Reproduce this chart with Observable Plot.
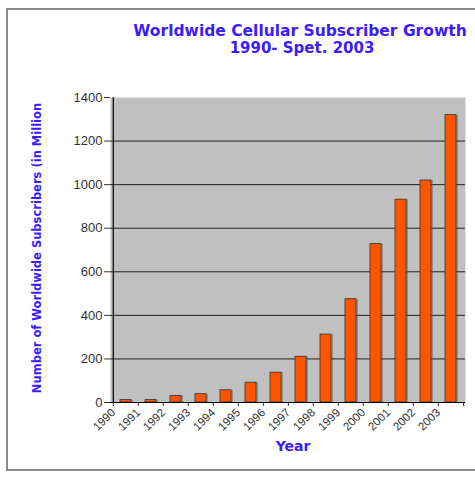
<!DOCTYPE html>
<html>
<head>
<meta charset="utf-8">
<script src="https://cdn.jsdelivr.net/npm/d3@7"></script>
<script src="https://cdn.jsdelivr.net/npm/@observablehq/plot@0.6"></script>
<style>
  html, body { margin: 0; padding: 0; background: #fff; overflow: hidden; }
  #wrap { position: relative; width: 475px; height: 479px; }
  #border { position: absolute; left: 6px; top: 8px; width: 480px; height: 463px; border: 2px solid #8a8a8a; box-sizing: border-box; }
  #chart { position: absolute; left: 0; top: 0; }
</style>
</head>
<body>
<div id="wrap"><div id="border"></div><div id="chart"></div></div>
<script>
const years = ["1990","1991","1992","1993","1994","1995","1996","1997","1998","1999","2000","2001","2002","2003"];
const subscribers = [11, 11, 30, 38, 56, 91, 137, 210, 312, 474, 727, 931, 1019, 1319];
const yTicks = [0, 200, 400, 600, 800, 1000, 1200, 1400];
const gridTicks = [200, 400, 600, 800, 1000, 1200];
const titleLines = ["Worldwide Cellular Subscriber Growth", "1990- Spet. 2003"];
const yLabel = "Number of Worldwide Subscribers (in Million";
const xLabel = "Year";

const data = years.map((y, i) => ({year: y, value: subscribers[i]}));
const blue = "#3a1cff";
const boldFont = "DejaVu Sans, Verdana, sans-serif";

const chart = Plot.plot({
  width: 475,
  height: 479,
  marginLeft: 110,
  marginRight: 10,
  marginTop: 97,
  marginBottom: 77,
  style: {background: "transparent", fontFamily: "Liberation Sans, Arial, sans-serif"},
  x: {domain: years, paddingInner: 0.57, paddingOuter: 0.285, label: null},
  y: {domain: [0, 1400], label: null},
  marks: [
    Plot.frame({fill: "#c0c0c0", stroke: "#e0e0e0"}),
    Plot.ruleY(gridTicks, {stroke: "#222", strokeWidth: 1}),
    Plot.barY(data, {x: "year", y: "value", fill: "#555", fillOpacity: 0.45, dx: 2}),
    Plot.barY(data, {x: "year", y: "value", fill: "#ff5500", stroke: "#333", strokeWidth: 0.8}),
    Plot.ruleY([0], {stroke: "#000", strokeWidth: 1.2}),
    Plot.ruleX([years[0]], {stroke: "#000", strokeWidth: 1.2, dx: -12.7}),
    Plot.axisY({ticks: yTicks, tickFormat: d => String(d), tickSize: 6, tickPadding: 2, fontSize: 13, color: "#333", label: null}),
    Plot.axisX({tickSize: 4, tickRotate: -45, dx: -12.7, tickPadding: 4, fontSize: 11.5, color: "#333", label: null}),
    Plot.axisX({tickSize: 4, ticks: [years[years.length - 1]], tickFormat: () => "", dx: 12.7, label: null}),
    Plot.text([titleLines[0]], {frameAnchor: "top", dx: 12, dy: -73, fontSize: 15.5, fontWeight: "bold", fill: blue, fontFamily: boldFont}),
    Plot.text([titleLines[1]], {frameAnchor: "top", dx: 14, dy: -55, fontSize: 15, fontWeight: "bold", fill: blue, fontFamily: boldFont}),
    Plot.text([yLabel], {frameAnchor: "left", textAnchor: "middle", dx: -73, dy: -2, rotate: -90, fontSize: 11.5, fontWeight: "bold", fill: blue, fontFamily: boldFont}),
    Plot.text([xLabel], {frameAnchor: "bottom", dx: 5, dy: 48, fontSize: 14, fontWeight: "bold", fill: blue, fontFamily: boldFont})
  ]
});
document.getElementById("chart").appendChild(chart);
</script>
</body>
</html>
